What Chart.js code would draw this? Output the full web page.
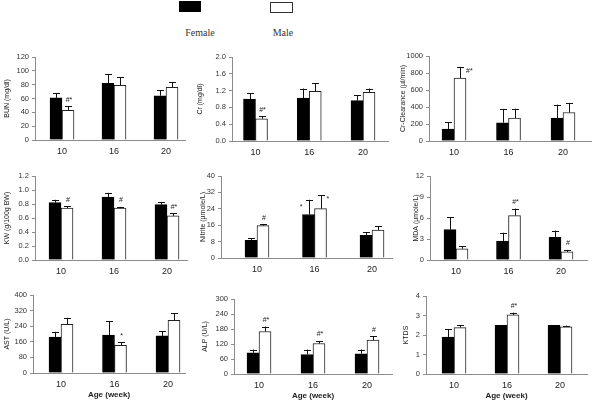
<!DOCTYPE html>
<html>
<head>
<meta charset="utf-8">
<script src="https://cdn.jsdelivr.net/npm/chart.js@4.4.0/dist/chart.umd.min.js"></script>
<style>
    html, body { margin: 0; padding: 0; background: #fff; }
    #wrap { position: relative; width: 592px; height: 406px; overflow: hidden; }
    #wrap canvas { position: absolute; left: 0; top: 0; }
    .swatch { position: absolute; box-sizing: border-box; }
    .key { position: absolute; font-family: 'Liberation Serif', 'DejaVu Serif', serif; font-size: 10px; color: #333; transform: translateX(-50%); white-space: nowrap; }
</style>
</head>
<body>
<div id="wrap">
    <div class="swatch" style="left:179px;top:1px;width:22px;height:11px;background:#000;"></div>
    <div class="swatch" style="left:270px;top:2px;width:23px;height:11px;background:#fff;border:1px solid #333;"></div>
    <div class="key" style="left:200px;top:27px;">Female</div>
    <div class="key" style="left:283px;top:27px;">Male</div>
</div>
<script>
    // categories
    const ages = ['10', '16', '20'];

    // BUN (mg/dl)
    const bunFemale = [61, 82, 64];
    const bunFemaleErr = [7, 13, 8];
    const bunMale = [43, 79, 76];
    const bunMaleErr = [6, 12, 8];
    const bunMarks = ['#*', '', ''];

    // Cr (mg/dl)
    const crFemale = [1.00, 1.02, 0.96];
    const crFemaleErr = [0.14, 0.23, 0.13];
    const crMale = [0.53, 1.18, 1.16];
    const crMaleErr = [0.06, 0.19, 0.09];
    const crMarks = ['#*', '', ''];

    // Cr-Clearance (µl/min)
    const clFemale = [140, 215, 270];
    const clFemaleErr = [82, 163, 158];
    const clMale = [740, 270, 335];
    const clMaleErr = [132, 110, 112];
    const clMarks = ['#*', '', ''];

    // KW (g/100g BW)
    const kwFemale = [0.82, 0.90, 0.79];
    const kwFemaleErr = [0.04, 0.06, 0.04];
    const kwMale = [0.74, 0.74, 0.63];
    const kwMaleErr = [0.03, 0.02, 0.04];
    const kwMarks = ['#', '#', '#*'];

    // Nitrite (µmole/L)
    const niFemale = [8.6, 21.2, 11.1];
    const niFemaleErr = [1.1, 7.2, 1.5];
    const niMale = [15.8, 24.1, 13.6];
    const niMaleErr = [0.7, 6.4, 1.9];
    const niFemaleMarks = ['', '*', ''];
    const niMarks = ['#', '*', ''];

    // MDA (µmole/L)
    const mdaFemale = [4.35, 2.7, 3.25];
    const mdaFemaleErr = [1.75, 1.2, 0.95];
    const mdaMale = [1.6, 6.35, 1.15];
    const mdaMaleErr = [0.4, 1.0, 0.3];
    const mdaMarks = ['', '#*', '#'];

    // AST (U/L)
    const astFemale = [184, 194, 190];
    const astFemaleErr = [27, 72, 25];
    const astMale = [249, 142, 270];
    const astMaleErr = [34, 16, 37];
    const astMarks = ['', '*', ''];

    // ALP (U/L)
    const alpFemale = [85, 78, 81];
    const alpFemaleErr = [13, 20, 17];
    const alpMale = [170, 122, 136];
    const alpMaleErr = [20, 10, 15];
    const alpMarks = ['#*', '#*', '#'];

    // KTDS
    const ktFemale = [1.89, 2.5, 2.5];
    const ktFemaleErr = [0.42, 0, 0];
    const ktMale = [2.38, 3.03, 2.42];
    const ktMaleErr = [0.12, 0.12, 0.06];
    const ktMarks = ['', '#*', ''];

    Chart.defaults.font.family = "'Liberation Sans', Arial, sans-serif";
    Chart.defaults.color = '#333';

    // draws the one-sided error bars and the significance marks
    const errorBars = {
        id: 'errorBars',
        afterDatasetsDraw(chart) {
            const ctx = chart.ctx;
            const yScale = chart.scales.y;
            chart.data.datasets.forEach((ds, i) => {
                const meta = chart.getDatasetMeta(i);
                meta.data.forEach((bar, j) => {
                    const v = ds.data[j].y;
                    const e = ds.errors[j] || 0;
                    const top = yScale.getPixelForValue(v + e);
                    ctx.save();
                    if (e > 0) {
                        ctx.strokeStyle = '#111';
                        ctx.lineWidth = 1;
                        ctx.beginPath();
                        ctx.moveTo(Math.round(bar.x) + 0.5, bar.y);
                        ctx.lineTo(Math.round(bar.x) + 0.5, top);
                        ctx.moveTo(Math.round(bar.x) - 3, Math.round(top) + 0.5);
                        ctx.lineTo(Math.round(bar.x) + 4, Math.round(top) + 0.5);
                        ctx.stroke();
                    }
                    const m = ds.marks ? ds.marks[j] : '';
                    if (m) {
                        const side = ds.sides ? ds.sides[j] : 'top';
                        ctx.fillStyle = '#222';
                        ctx.font = "7px 'Liberation Sans', Arial, sans-serif";
                        if (side === 'right') {
                            ctx.textAlign = 'left';
                            ctx.textBaseline = 'middle';
                            ctx.fillText(m, bar.x + 6, top + 4);
                        } else if (side === 'left') {
                            ctx.textAlign = 'right';
                            ctx.textBaseline = 'middle';
                            ctx.fillText(m, bar.x - 6, top + 7);
                        } else {
                            ctx.textAlign = 'center';
                            ctx.textBaseline = 'bottom';
                            ctx.fillText(m, bar.x + 1, top - 3);
                        }
                    }
                    ctx.restore();
                });
            });
        }
    };

    const panels = [
        { title: 'BUN (mg/dl)', f: bunFemale, fe: bunFemaleErr, m: bunMale, me: bunMaleErr, mm: bunMarks,
          axis: 35, right: 185, top: 57, zero: 140, c0: 62, c2: 166, yW: 32, max: 120, step: 20, dec: 0 },
        { title: 'Cr (mg/dl)', f: crFemale, fe: crFemaleErr, m: crMale, me: crMaleErr, mm: crMarks,
          axis: 232, right: 388, top: 57, zero: 141, c0: 255.5, c2: 363, yW: 36, max: 2.0, step: 0.4, dec: 1 },
        { title: 'Cr-Clearance (µl/min)', f: clFemale, fe: clFemaleErr, m: clMale, me: clMaleErr, mm: clMarks,
          mSides: ['right', 'top', 'top'],
          axis: 429, right: 591, top: 56, zero: 141, c0: 454, c2: 563, yW: 30, max: 1000, step: 200, dec: 0 },
        { title: 'KW (g/100g BW)', f: kwFemale, fe: kwFemaleErr, m: kwMale, me: kwMaleErr, mm: kwMarks,
          axis: 35, right: 187, top: 176, zero: 260, c0: 61, c2: 167, yW: 32, max: 1.2, step: 0.2, dec: 1 },
        { title: 'Nitrite (µmole/L)', f: niFemale, fe: niFemaleErr, m: niMale, me: niMaleErr, fm: niFemaleMarks, mm: niMarks,
          fSides: ['top', 'left', 'top'], mSides: ['top', 'right', 'top'],
          axis: 221, right: 392, top: 176, zero: 258, c0: 257, c2: 372, yW: 22, max: 40, step: 8, dec: 0 },
        { title: 'MDA (µmole/L)', f: mdaFemale, fe: mdaFemaleErr, m: mdaMale, me: mdaMaleErr, mm: mdaMarks,
          axis: 430, right: 587, top: 176, zero: 260, c0: 456, c2: 561, yW: 18, max: 12, step: 3, dec: 0 },
        { title: 'AST (U/L)', f: astFemale, fe: astFemaleErr, m: astMale, me: astMaleErr, mm: astMarks, xTitle: true,
          axis: 33, right: 185, top: 295, zero: 373, c0: 61, c2: 168, yW: 30, max: 400, step: 80, dec: 0 },
        { title: 'ALP (U/L)', f: alpFemale, fe: alpFemaleErr, m: alpMale, me: alpMaleErr, mm: alpMarks, xTitle: true,
          axis: 234, right: 392, top: 299, zero: 374, c0: 259, c2: 367, yW: 33, max: 300, step: 60, dec: 0 },
        { title: 'KTDS', f: ktFemale, fe: ktFemaleErr, m: ktMale, me: ktMaleErr, mm: ktMarks, xTitle: true,
          axis: 426, right: 587, top: 296, zero: 374, c0: 454, c2: 560, yW: 24, max: 4, step: 1, dec: 0 }
    ];

    const wrap = document.getElementById('wrap');

    function makePanel(p) {
        const canvas = document.createElement('canvas');
        canvas.width = 592;
        canvas.height = 406;
        canvas.style.width = '592px';
        canvas.style.height = '406px';
        wrap.appendChild(canvas);

        const xH = p.xTitle ? 27 : 18;
        const s = (p.c2 - p.c0) / 2;

        new Chart(canvas, {
            type: 'bar',
            data: {
                datasets: [{
                    label: 'Female',
                    data: p.f.map((v, i) => ({ x: i, y: v })),
                    errors: p.fe,
                    marks: p.fm || [],
                    sides: p.fSides,
                    backgroundColor: '#000',
                    borderColor: '#000',
                    borderWidth: 1,
                    barThickness: 12
                }, {
                    label: 'Male',
                    data: p.m.map((v, i) => ({ x: i, y: v })),
                    errors: p.me,
                    marks: p.mm || [],
                    sides: p.mSides,
                    backgroundColor: '#fff',
                    borderColor: '#222',
                    borderWidth: 1,
                    barThickness: 12
                }]
            },
            options: {
                responsive: false,
                animation: false,
                devicePixelRatio: 1,
                layout: { padding: { left: p.axis - p.yW, right: 592 - p.right, top: p.top, bottom: 406 - p.zero - xH } },
                plugins: { legend: { display: false }, tooltip: { enabled: false } },
                scales: {
                    x: {
                        type: 'linear',
                        offset: false,
                        min: -(p.c0 - p.axis) / s,
                        max: 2 + (p.right - p.c2) / s,
                        afterBuildTicks: sc => { sc.ticks = ages.map((a, i) => ({ value: i })); },
                        afterFit: sc => { sc.height = xH; sc.paddingLeft = 0; sc.paddingRight = 0; },
                        ticks: { callback: v => ages[v], font: { size: 9 }, color: '#222', padding: 6, maxRotation: 0, autoSkip: false },
                        grid: { display: false, drawTicks: false },
                        border: { color: '#8c8c8c' },
                        title: { display: !!p.xTitle, text: 'Age (week)', font: { size: 8, weight: 'bold' }, color: '#222', padding: 0 }
                    },
                    y: {
                        min: 0,
                        max: p.max,
                        afterFit: sc => { sc.width = p.yW; sc.paddingTop = 0; sc.paddingBottom = 0; },
                        ticks: { stepSize: p.step, callback: v => v.toFixed(p.dec), font: { size: 7.5 }, color: '#333', padding: 3 },
                        grid: { drawOnChartArea: false, tickLength: 3, color: '#8c8c8c' },
                        border: { color: '#8c8c8c' },
                        title: { display: true, text: p.title, font: { size: 7 }, color: '#222', padding: 0 }
                    }
                }
            },
            plugins: [errorBars]
        });
    }

    panels.forEach(makePanel);
</script>
</body>
</html>
